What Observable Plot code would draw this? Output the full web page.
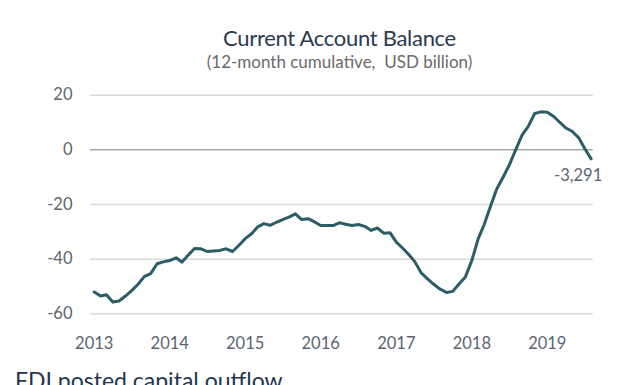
<!DOCTYPE html>
<html><head><meta charset="utf-8">
<script src="https://cdn.jsdelivr.net/npm/d3@7"></script>
<script src="https://cdn.jsdelivr.net/npm/@observablehq/plot@0.6"></script>
<style>
html,body{margin:0;padding:0;width:640px;height:385px;overflow:hidden;background:#fff;font-family:Lato,"Noto Sans",sans-serif;}
#title{position:absolute;left:39px;width:601px;top:25px;text-align:center;font-size:22px;line-height:1.2;color:#2b3b50;letter-spacing:-0.3px;}
#subtitle{position:absolute;left:39px;width:601px;top:51.5px;text-align:center;font-size:17px;line-height:1.2;color:#6a6a6a;}
#chart{position:absolute;left:0;top:80px;width:640px;height:280px;}
#footer{position:absolute;left:15px;top:367px;font-size:23px;line-height:1.2;color:#1f3550;white-space:nowrap;}
</style></head><body>
<div id="title">Current Account Balance</div>
<div id="subtitle">(12-month cumulative,&nbsp; USD billion)</div>
<div id="chart"></div>
<div id="footer">FDI posted capital outflow</div>
<script>
// Monthly series, Jan 2013 .. Aug 2019 (USD billion, 12-month cumulative)
const startYear = 2013;
const startMonth = 0;
const values = [
  -52, -53.5, -53, -55.7, -55.3, -53.5, -51.5, -49.2, -46.3, -45.3, -41.7, -41,
  -40.5, -39.5, -41.1, -38.5, -36.1, -36.2, -37.2, -37, -36.8, -36.2, -37.2, -35,
  -32.5, -30.7, -28.3, -27, -27.6, -26.5, -25.5, -24.6, -23.4, -25.5, -25.2, -26.3,
  -27.7, -27.7, -27.7, -26.7, -27.2, -27.7, -27.3, -28, -29.5, -28.6, -30.5, -30.3,
  -33.8, -36, -38.2, -41, -45, -47.2, -49.2, -51, -52.2, -51.8, -49, -46.5,
  -40.5, -32.5, -27.5, -20.7, -14.4, -10, -5.6, 0, 5.4, 8.6, 13.3, 13.9,
  13.8, 12.2, 10.2, 8, 6.8, 4.5, 0.5, -3.291
];
const yTicks = [20, 0, -20, -40, -60];
const xTickYears = [2013, 2014, 2015, 2016, 2017, 2018, 2019];
const endLabel = "-3,291";

const data = values.map((v, i) => ({date: new Date(Date.UTC(startYear, startMonth + i, 1)), v}));
const xTicks = xTickYears.map(y => new Date(Date.UTC(y, 0, 1)));

const chart = Plot.plot({
  width: 640, height: 280,
  marginLeft: 90, marginRight: 47.3, marginTop: 14.7, marginBottom: 46.7,
  x: {type: "utc", domain: [new Date(Date.UTC(2012, 11, 14)), new Date(Date.UTC(2019, 7, 11))],
      ticks: xTicks, tickFormat: d => String(d.getUTCFullYear()), tickSize: 0, tickPadding: 23, label: null},
  y: {domain: [-60, 20], ticks: yTicks, tickFormat: d => String(d), tickSize: 0, tickPadding: 18, label: null},
  style: {fontFamily: "Lato, 'Noto Sans', sans-serif", fontSize: "16.5px", color: "#5b6470", background: "transparent", overflow: "visible"},
  marks: [
    Plot.ruleY(yTicks.filter(d => d !== 0), {stroke: "#d9d9d9", strokeWidth: 1.5}),
    Plot.ruleY([0], {stroke: "#a6a6a6", strokeWidth: 1.5}),
    Plot.line(data, {x: "date", y: "v", stroke: "#2b5d68", strokeWidth: 3, strokeLinejoin: "round"}),
    Plot.text(data.slice(-1), {x: "date", y: "v", text: () => endLabel, dx: -13, dy: 17, fill: "#5b6470", fontSize: 16.5})
  ]
});
document.getElementById("chart").appendChild(chart);
</script>
</body></html>
